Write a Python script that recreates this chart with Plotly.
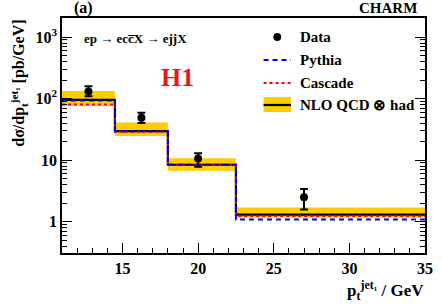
import plotly.graph_objects as go

# ---- data ----
bin_edges = [11, 14.5, 18, 22.5, 35]
data_x = [12.75, 16.25, 20.0, 27.0]
data_y = [130, 49, 10.6, 2.5]
data_err_up = [28, 10, 2.3, 0.9]
data_err_dn = [21, 9, 2.8, 0.93]
nlo = [95, 29.5, 8.4, 1.3]
nlo_lo = [76, 24.7, 6.7, 1.18]
nlo_hi = [133, 40.7, 10.7, 1.7]
pythia = [93, 29.5, 8.4, 1.08]
cascade = [80, 29, 8.4, 1.22]

FONT = "Liberation Serif"
GOLD = "#FFCC00"


def step(vals):
    return bin_edges, list(vals) + [vals[-1]]


fig = go.Figure()

# NLO uncertainty band: one rectangle polygon per bin
for i in range(len(nlo)):
    x0, x1 = bin_edges[i], bin_edges[i + 1]
    fig.add_trace(go.Scatter(
        x=[x0, x1, x1, x0, x0],
        y=[nlo_lo[i], nlo_lo[i], nlo_hi[i], nlo_hi[i], nlo_lo[i]],
        fill="toself", fillcolor=GOLD, line=dict(width=0), mode="lines",
        hoverinfo="skip", showlegend=False))

sx, sy = step(nlo)
fig.add_trace(go.Scatter(x=sx, y=sy, mode="lines", line_shape="hv",
                         line=dict(color="black", width=2.2), showlegend=False))
sx, sy = step(cascade)
fig.add_trace(go.Scatter(x=sx, y=sy, mode="lines", line_shape="hv",
                         line=dict(color="#FF0000", width=2, dash="dot"), showlegend=False))
sx, sy = step(pythia)
fig.add_trace(go.Scatter(x=sx, y=sy, mode="lines", line_shape="hv",
                         line=dict(color="#0000FF", width=2, dash="5px,4px"), showlegend=False))

fig.add_trace(go.Scatter(
    x=data_x, y=data_y, mode="markers",
    marker=dict(color="black", size=8, symbol="circle"),
    error_y=dict(type="data", array=data_err_up, arrayminus=data_err_dn,
                 color="black", thickness=2, width=4),
    showlegend=False))

# ---- manual legend (paper-coordinate glyphs) ----
W, H = 442, 307
ml, mr, mt, mb = 62, 9, 18, 54
pw, ph = W - ml - mr, H - mt - mb


def px(x):
    return (x - ml) / pw


def py(y):
    return 1 - (y - mt) / ph


shapes = []
# Data marker
shapes.append(dict(type="circle", xref="paper", yref="paper", x0=px(278), x1=px(286),
                   y0=py(41), y1=py(33), fillcolor="black", line=dict(width=0)))
# Pythia
shapes.append(dict(type="line", xref="paper", yref="paper", x0=px(268), x1=px(296),
                   y0=py(60), y1=py(60), line=dict(color="#0000FF", width=2, dash="5px,4px")))
# Cascade
shapes.append(dict(type="line", xref="paper", yref="paper", x0=px(268), x1=px(296),
                   y0=py(83), y1=py(83), line=dict(color="#FF0000", width=2, dash="dot")))
# NLO box + line
shapes.append(dict(type="rect", xref="paper", yref="paper", x0=px(268), x1=px(296),
                   y0=py(112), y1=py(97), fillcolor=GOLD, line=dict(width=0)))
shapes.append(dict(type="line", xref="paper", yref="paper", x0=px(268), x1=px(296),
                   y0=py(105), y1=py(105), line=dict(color="black", width=2.2)))

ann = []
for label, yy in [("Data", 37), ("Pythia", 60), ("Cascade", 83), ("NLO QCD ⊗ had", 105)]:
    ann.append(dict(text=label, xref="paper", yref="paper", x=px(303), y=py(yy),
                    xanchor="left", yanchor="middle", showarrow=False,
                    font=dict(family=FONT, size=15, color="black", weight="bold")))

ann.append(dict(text="ep → ecc\u0305X → ejjX",
                xref="paper", yref="paper", x=px(82), y=py(38),
                xanchor="left", yanchor="middle", showarrow=False,
                font=dict(family=FONT, size=13, color="black", weight="bold")))
ann.append(dict(text="H1", xref="paper", yref="paper", x=px(180), y=py(77),
                xanchor="center", yanchor="middle", showarrow=False,
                font=dict(family=FONT, size=26, color="#E8161D", weight="bold")))
ann.append(dict(text="(a)", xref="paper", yref="paper", x=px(72), y=py(8),
                xanchor="left", yanchor="middle", showarrow=False,
                font=dict(family=FONT, size=16, color="black", weight="bold")))
ann.append(dict(text="CHARM", xref="paper", yref="paper", x=px(427), y=py(8),
                xanchor="right", yanchor="middle", showarrow=False,
                font=dict(family=FONT, size=15, color="black", weight="bold")))
ann.append(dict(text="dσ/dp<sub>t</sub><sup>jet₁</sup> [pb/GeV]", xref="paper", yref="paper",
                x=px(4), y=py(18), xanchor="left", yanchor="top", textangle=-90,
                showarrow=False,
                font=dict(family=FONT, size=16, color="black", weight="bold")))
ann.append(dict(text="p<sub>t</sub><sup>jet₁</sup> / GeV", xref="paper", yref="paper",
                x=px(434), y=py(305), xanchor="right", yanchor="bottom",
                showarrow=False,
                font=dict(family=FONT, size=17, color="black", weight="bold")))

fig.update_layout(
    width=W, height=H,
    margin=dict(l=ml, r=mr, t=mt, b=mb),
    paper_bgcolor="white", plot_bgcolor="white",
    font=dict(family=FONT, size=16, color="black", weight="bold"),
    shapes=shapes, annotations=ann,
    xaxis=dict(range=[11, 35], tickvals=[15, 20, 25, 30, 35], ticks="inside",
               ticklen=10, tickwidth=1, tickcolor="black", showline=True,
               linecolor="black", linewidth=1.5, mirror=True, showgrid=False,
               zeroline=False,
               minor=dict(dtick=1, ticks="inside", ticklen=5, tickcolor="black",
                          showgrid=False),
               tickfont=dict(family=FONT, size=16, weight="bold")),
    yaxis=dict(type="log", range=[-0.51, 3.31], tickvals=[1, 10, 100, 1000],
               ticktext=["1", "10", "10<sup>2</sup>", "10<sup>3</sup>"],
               ticks="inside", ticklen=10, tickcolor="black", showline=True,
               linecolor="black", linewidth=1.5, mirror="ticks", showgrid=False,
               zeroline=False,
               minor=dict(ticks="inside", ticklen=5, tickcolor="black", showgrid=False,
                          tickvals=[v * m for m in [0.1, 1, 10, 100, 1000]
                                    for v in range(2, 10)]),
               tickfont=dict(family=FONT, size=16, weight="bold")),
)

fig.write_html("out.html", config={"displayModeBar": False},
               post_script="document.body.style.margin='0';")
